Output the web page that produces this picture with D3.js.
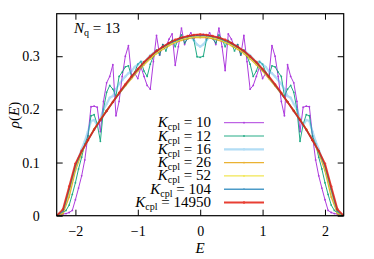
<!DOCTYPE html>
<html>
<head>
<meta charset="utf-8">
<script src="https://cdn.jsdelivr.net/npm/d3@7"></script>
<style>
  body { margin: 0; background: #fff; }
  svg text { font-family: "Liberation Serif", "DejaVu Serif", "Noto Serif", "Times New Roman", Times, serif; fill: #000; }
</style>
</head>
<body>
<div id="chart"></div>
<script>

// K_cpl values of each series (legend order = drawing order)
const kValues = ['10', '12', '16', '26', '52', '104', '14950'];

// rho(E), fine grid (dE = 0.05, E from -2.3 to 2.3)
const rhoK10 = [0.000,0.001,0.003,0.004,0.006,0.010,0.030,0.052,0.075,0.105,0.150,0.205,0.206,0.204,0.158,0.215,
  0.250,0.262,0.284,0.188,0.215,0.262,0.300,0.320,0.262,0.268,0.258,0.280,0.262,0.245,0.238,0.290,0.339,0.302,
  0.322,0.318,0.332,0.342,0.283,0.318,0.353,0.322,0.336,0.344,0.333,0.340,0.336,
  0.341,0.333,0.344,0.336,0.322,0.353,0.318,0.273,0.342,0.332,0.318,0.322,0.302,0.339,0.290,0.238,0.245,0.262,
  0.280,0.258,0.268,0.262,0.320,0.300,0.262,0.215,0.188,0.284,0.262,0.250,0.215,0.158,0.204,0.206,0.205,0.150,
  0.105,0.075,0.052,0.030,0.010,0.006,0.004,0.003,0.001,0.000];

const rhoK12 = [0.000,0.002,0.005,0.010,0.020,0.040,0.062,0.088,0.110,0.135,0.150,0.188,0.190,0.172,0.140,0.200,
  0.232,0.245,0.238,0.225,0.262,0.270,0.280,0.282,0.262,0.270,0.285,0.290,0.272,0.262,0.285,0.300,0.312,0.303,
  0.322,0.310,0.325,0.330,0.318,0.332,0.340,0.325,0.333,0.338,0.330,0.299,0.298,
  0.300,0.331,0.338,0.333,0.325,0.340,0.332,0.318,0.330,0.325,0.310,0.322,0.303,0.312,0.300,0.285,0.262,0.272,
  0.290,0.285,0.270,0.262,0.282,0.280,0.270,0.262,0.225,0.238,0.245,0.232,0.200,0.140,0.172,0.190,0.188,0.150,
  0.135,0.110,0.088,0.062,0.040,0.020,0.010,0.005,0.002,0.000];

const rhoK16 = [0.000,0.003,0.010,0.025,0.045,0.068,0.088,0.108,0.125,0.140,0.158,0.178,0.180,0.170,0.182,0.200,
  0.210,0.222,0.225,0.238,0.248,0.255,0.262,0.268,0.272,0.280,0.284,0.290,0.288,0.295,0.302,0.306,0.310,0.312,
  0.318,0.320,0.324,0.327,0.324,0.330,0.334,0.331,0.334,0.336,0.330,0.322,0.318,
  0.322,0.330,0.336,0.334,0.331,0.334,0.330,0.324,0.327,0.324,0.320,0.318,0.312,0.310,0.306,0.302,0.295,0.288,
  0.290,0.284,0.280,0.272,0.268,0.262,0.255,0.248,0.238,0.225,0.222,0.210,0.200,0.182,0.170,0.180,0.178,0.158,
  0.140,0.125,0.108,0.088,0.068,0.045,0.025,0.010,0.003,0.000];

// coarse grid (dE = 0.1) for the smoother ones
const rhoK26 = [0,0.004,0.035,0.085,0.118,0.142,0.163,0.181,0.198,0.214,0.229,0.244,0.258,0.272,0.284,0.295,
  0.305,0.313,0.320,0.326,0.330,0.333,0.335,0.335,
  0.335,0.333,0.330,0.326,0.320,0.313,0.305,0.295,0.284,0.272,0.258,0.244,0.229,0.214,0.198,0.181,0.163,0.142,
  0.118,0.085,0.035,0.004,0];

const rhoK52 = [0,0.006,0.045,0.090,0.120,0.143,0.163,0.181,0.198,0.214,0.230,0.245,0.260,0.274,0.286,0.297,
  0.307,0.315,0.322,0.327,0.332,0.335,0.337,0.337,
  0.337,0.335,0.332,0.327,0.322,0.315,0.307,0.297,0.286,0.274,0.260,0.245,0.230,0.214,0.198,0.181,0.163,0.143,
  0.120,0.090,0.045,0.006,0];

const rhoK104 = [0,0.008,0.050,0.094,0.121,0.142,0.162,0.180,0.197,0.214,0.230,0.246,0.261,0.275,0.288,0.299,
  0.309,0.317,0.324,0.329,0.334,0.337,0.339,0.339,
  0.339,0.337,0.334,0.329,0.324,0.317,0.309,0.299,0.288,0.275,0.261,0.246,0.230,0.214,0.197,0.180,0.162,0.142,
  0.121,0.094,0.050,0.008,0];

const rhoK14950 = [0,0.012,0.055,0.098,0.122,0.142,0.162,0.180,0.197,0.214,0.231,0.247,0.262,0.276,0.289,0.300,
  0.310,0.318,0.325,0.331,0.335,0.338,0.340,0.341,
  0.340,0.338,0.335,0.331,0.325,0.318,0.310,0.300,0.289,0.276,0.262,0.247,0.231,0.214,0.197,0.180,0.162,
  0.142,0.122,0.098,0.055,0.012,0];

const xTicks = [-2, -1, 0, 1, 2];
const yTicks = [0, 0.1, 0.2, 0.3];

// energy grids
const eFine   = d3.range(93).map(i => -2.3 + i * 0.05);
const eCoarse = d3.range(47).map(i => -2.3 + i * 0.1);

const series = [
  { k: kValues[0], e: eFine,   rho: rhoK10,    color: '#9400d3', op: 0.75, w: 1   },
  { k: kValues[1], e: eFine,   rho: rhoK12,    color: '#009e73', op: 0.85, w: 1   },
  { k: kValues[2], e: eFine,   rho: rhoK16,    color: '#56b4e9', op: 0.45, w: 2.2 },
  { k: kValues[3], e: eCoarse, rho: rhoK26,    color: '#e69f00', op: 0.8,  w: 1.3 },
  { k: kValues[4], e: eCoarse, rho: rhoK52,    color: '#f0e442', op: 0.9,  w: 1.3 },
  { k: kValues[5], e: eCoarse, rho: rhoK104,   color: '#0072b2', op: 0.7,  w: 1.6 },
  { k: kValues[6], e: eCoarse, rho: rhoK14950, color: '#e51e10', op: 0.85, w: 1.8 }
];

const serif = '"Liberation Serif", "DejaVu Serif", "Noto Serif", "Times New Roman", Times, serif';

// layout
const width = 374, height = 259;
const margin = { top: 13.7, right: 30.3, bottom: 43.3, left: 56.7 };
const w = width - margin.left - margin.right,
      h = height - margin.top - margin.bottom;

const svg = d3.select('#chart').append('svg')
    .attr('width', width)
    .attr('height', height)
    .attr('font-family', serif);

const g = svg.append('g')
    .attr('transform', `translate(${margin.left}, ${margin.top})`);

const xScale = d3.scaleLinear().domain([-2.3, 2.3]).range([0, w]);
const yScale = d3.scaleLinear().domain([0, 0.38]).range([h, 0]);

// clip so the curves stay inside the frame
g.append('clipPath').attr('id', 'clip')
  .append('rect').attr('width', w).attr('height', h);

const line = d3.line()
    .x(d => xScale(d[0]))
    .y(d => yScale(d[1]));

const curves = g.append('g').attr('clip-path', 'url(#clip)');

series.forEach(s => {
  const pts = s.e.map((e, i) => [e, s.rho[i]]);
  const grp = curves.append('g').attr('opacity', s.op);
  grp.append('path')
      .datum(pts)
      .attr('fill', 'none')
      .attr('stroke', s.color)
      .attr('stroke-width', s.w)
      .attr('stroke-linejoin', 'round')
      .attr('d', line);
  grp.selectAll('circle')
      .data(pts)
      .enter().append('circle')
      .attr('cx', d => xScale(d[0]))
      .attr('cy', d => yScale(d[1]))
      .attr('r', s.w > 1.7 ? 1.2 : 0.9)
      .attr('fill', s.color);
});

// axes: inward ticks on all four sides, gnuplot style
const tl = 6;
g.append('g').attr('transform', `translate(0, ${h})`)
  .call(d3.axisBottom(xScale).tickValues(xTicks).tickSizeInner(-tl).tickSizeOuter(0)
        .tickFormat(d => d < 0 ? '\u2212' + Math.abs(d) : d).tickPadding(10));
g.append('g')
  .call(d3.axisTop(xScale).tickValues(xTicks).tickSizeInner(-tl).tickSizeOuter(0).tickFormat(''));
g.append('g')
  .call(d3.axisLeft(yScale).tickValues(yTicks).tickSizeInner(-tl).tickSizeOuter(0)
        .tickFormat(d => d === 0 ? '0' : d3.format('.1f')(d)).tickPadding(17));
g.append('g').attr('transform', `translate(${w}, 0)`)
  .call(d3.axisRight(yScale).tickValues(yTicks).tickSizeInner(-tl).tickSizeOuter(0).tickFormat(''));

g.selectAll('.domain').remove();
g.selectAll('.tick line').attr('stroke', '#000').attr('stroke-width', 1);
// d3 axis puts font-family="sans-serif" on its group, override it
g.selectAll('g').filter(function() { return this.hasAttribute('font-family'); })
  .attr('font-family', serif)
  .attr('font-size', 14);

g.append('rect')
    .attr('width', w).attr('height', h)
    .attr('fill', 'none')
    .attr('stroke', '#000')
    .attr('stroke-width', 1.2);

// axis labels
const yLab = svg.append('text')
    .attr('transform', 'translate(19, 115) rotate(-90)')
    .attr('text-anchor', 'middle')
    .attr('font-size', 15);
yLab.append('tspan').attr('font-style', 'italic').text('\u03c1');
yLab.append('tspan').text('(');
yLab.append('tspan').attr('font-style', 'italic').text('E');
yLab.append('tspan').text(')');

svg.append('text')
    .attr('x', margin.left + xScale(0))
    .attr('y', 253)
    .attr('text-anchor', 'middle')
    .attr('font-size', 15)
    .attr('font-style', 'italic')
    .text('E');

// N_q annotation
const nq = svg.append('text')
    .attr('x', 74).attr('y', 33)
    .attr('font-size', 15);
nq.append('tspan').attr('font-style', 'italic').text('N');
nq.append('tspan').attr('dy', 3).attr('font-size', 10).text('q');
nq.append('tspan').attr('dy', -3).text(' = 13');

// legend
const legend = svg.append('g');
series.forEach((s, i) => {
  const ly = 122.7 + i * 13.3;
  const t = legend.append('text')
      .attr('x', 211).attr('y', ly + 4.5)
      .attr('text-anchor', 'end')
      .attr('font-size', 15);
  t.append('tspan').attr('font-style', 'italic').text('K');
  t.append('tspan').attr('dy', 3).attr('font-size', 10).text('cpl');
  t.append('tspan').attr('dy', -3).text(' = ' + s.k);

  const lg = legend.append('g').attr('opacity', s.op);
  lg.append('line')
      .attr('x1', 224).attr('x2', 264)
      .attr('y1', ly).attr('y2', ly)
      .attr('stroke', s.color)
      .attr('stroke-width', s.w);
  lg.append('circle')
      .attr('cx', 244).attr('cy', ly)
      .attr('r', s.w > 1.7 ? 1.2 : 0.9)
      .attr('fill', s.color);
});

</script>
</body>
</html>
